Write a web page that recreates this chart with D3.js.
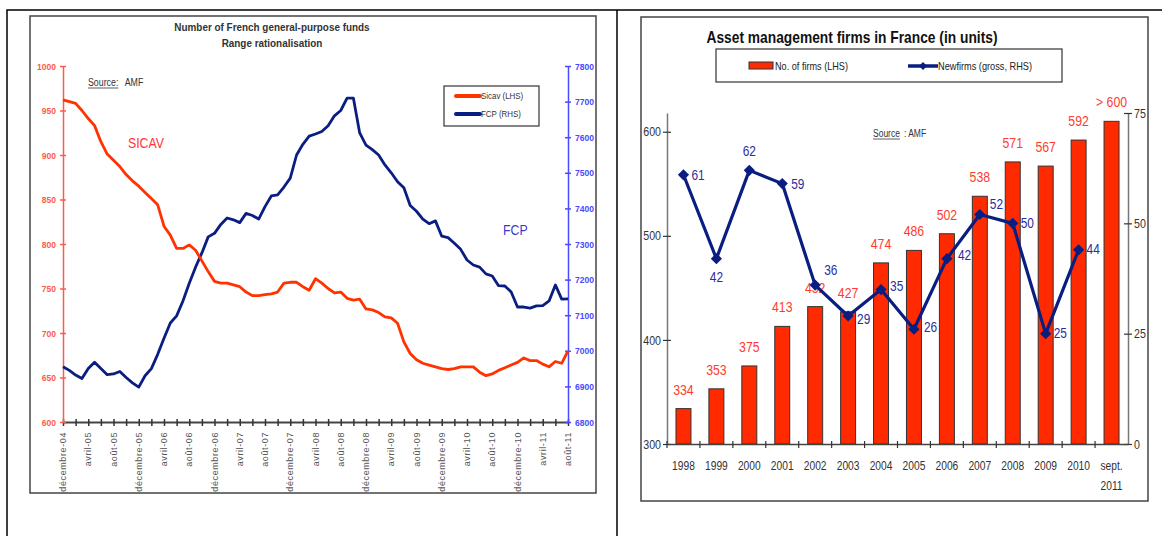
<!DOCTYPE html>
<html>
<head>
<meta charset="utf-8">
<script src="https://cdn.jsdelivr.net/npm/d3@7"></script>
<style>
  body { margin: 0; background: #fff; }
  svg { display: block; }
  .narrow, .arial { font-family: "Liberation Sans", Arial, sans-serif; }
</style>
</head>
<body>
<svg id="chart" width="1162" height="536"></svg>
<script>
// ---- left chart data (monthly, déc 2004 -> août 2011) ----
let sicavValues = [962, 960, 958, 950, 941, 933, 915, 901, 894, 887, 878, 871, 865, 858, 851, 844,
    820, 810, 795, 795, 799, 793, 781, 769, 758, 756, 756, 754, 752, 746, 742, 742, 743, 744, 746,
    756, 757, 757, 752, 748, 761, 756, 750, 745, 746, 739, 737, 738, 727, 726, 723, 718, 717, 711,
    690, 677, 670, 666, 664, 662, 660, 659, 660, 662, 662, 662, 656, 652, 654, 658, 661, 664, 667,
    672, 669, 669, 665, 662, 668, 666, 680];
let fcpValues = [6955, 6945, 6932, 6922, 6950, 6968, 6950, 6933, 6935, 6942, 6925, 6910, 6898, 6930,
    6950, 6990, 7035, 7078, 7098, 7140, 7190, 7235, 7275, 7320, 7330, 7355, 7373, 7368, 7360, 7386,
    7380, 7370, 7405, 7435, 7438, 7460, 7485, 7550, 7580, 7603, 7609, 7616, 7632, 7660, 7675, 7710,
    7710, 7612, 7578, 7565, 7550, 7522, 7500, 7475, 7458, 7408, 7392, 7370, 7357, 7365, 7322, 7318,
    7302, 7285, 7255, 7241, 7235, 7216, 7210, 7183, 7182, 7165, 7123, 7123, 7120, 7126, 7127, 7140,
    7185, 7145, 7146];
// one label every 4 months
let monthLabels = ["décembre-04", "avril-05", "août-05", "décembre-05", "avril-06", "août-06",
    "décembre-06", "avril-07", "août-07", "décembre-07", "avril-08", "août-08", "décembre-08",
    "avril-09", "août-09", "décembre-09", "avril-10", "août-10", "décembre-10", "avril-11", "août-11"];
let sicavTicks = [600, 650, 700, 750, 800, 850, 900, 950, 1000];
let fcpTicks = [6800, 6900, 7000, 7100, 7200, 7300, 7400, 7500, 7600, 7700, 7800];

// ---- right chart data ----
let years = ["1998", "1999", "2000", "2001", "2002", "2003", "2004", "2005", "2006", "2007", "2008", "2009", "2010", "sept. 2011"];
let firmsValues = [334, 353, 375, 413, 432, 427, 474, 486, 502, 538, 571, 567, 592, 610];
let firmsLabels = ["334", "353", "375", "413", "432", "427", "474", "486", "502", "538", "571", "567", "592", "> 600"];
let newFirmsValues = [61, 42, 62, 59, 36, 29, 35, 26, 42, 52, 50, 25, 44];
let firmsTicks = [300, 400, 500, 600];
let newFirmsTicks = [0, 25, 50, 75];

// label placement of the new firms values [dx, dy]
let newFirmsLabelOffset = [[8, 5], [0, 23], [0, -14], [9, 5], [9, -10], [9, 8], [9, 1], [10, 3],
    [11, 1], [10, -6], [8, 5], [8, 4], [8, 4]];

// squeeze Liberation Sans to look like Arial Narrow
function condense(sel, factor) {
    sel.each(function () {
        let w = this.getComputedTextLength();
        d3.select(this).attr("textLength", w * factor).attr("lengthAdjust", "spacingAndGlyphs");
    });
}

// "Source: AMF" note, underlined word + plain text as two texts
function sourceNote(g, x, y, word, rest, size, factor, gap) {
    let a = g.append("text").attr("class", "arial").attr("x", x).attr("y", y)
        .style("font-size", size + "px").attr("fill", "#333").text(word);
    condense(a, factor);
    let w = +a.attr("textLength");
    g.append("line").attr("x1", x).attr("x2", x + w).attr("y1", y + 2).attr("y2", y + 2)
        .attr("stroke", "#333").attr("stroke-width", 0.8);
    let b = g.append("text").attr("class", "arial").attr("x", x + w + gap).attr("y", y)
        .style("font-size", size + "px").attr("fill", "#333").text(rest);
    condense(b, factor);
}

let svg = d3.select("svg#chart");
svg.append("rect").attr("width", 1162).attr("height", 536).attr("fill", "#fff");

// outer frame
svg.append("path")
    .attr("d", "M7,536 V10 H1162 M617,10 V536")
    .attr("fill", "none").attr("stroke", "#000").attr("stroke-width", 1.5);

// =================== LEFT CHART ===================
let left = svg.append("g");
left.append("rect").attr("x", 30).attr("y", 16).attr("width", 566).attr("height", 477)
    .attr("fill", "none").attr("stroke", "#444").attr("stroke-width", 1.5);

let monthScale = d3.scaleLinear().domain([0, sicavValues.length - 1]).range([63, 568]);
let sicavScale = d3.scaleLinear().domain([600, 1000]).range([422, 66]);
let fcpScale = d3.scaleLinear().domain([6800, 7800]).range([422, 66]);

let titles = left.selectAll("text.title").data(["Number of French general-purpose funds", "Range rationalisation"])
    .enter().append("text").attr("class", "title arial")
    .attr("x", 272).attr("y", (d, i) => 31 + i * 16)
    .attr("text-anchor", "middle").style("font-size", "11px").style("font-weight", "bold").attr("fill", "#333")
    .text(d => d);
condense(titles, 0.9);

// x axis
let xTicks = d3.range(0, sicavValues.length, 2);
let xAxisLeft = d3.axisBottom(monthScale).tickValues(xTicks).tickSize(0).tickFormat("");
let gx = left.append("g").attr("transform", "translate(0,422)").call(xAxisLeft);
gx.select(".domain").attr("stroke", "#444").attr("stroke-width", 2);
gx.selectAll(".tick line").attr("y1", -3).attr("y2", 4).attr("stroke", "#333").attr("stroke-width", 1.5);
left.selectAll("text.month").data(monthLabels).enter().append("text")
    .attr("class", "month arial")
    .attr("transform", (d, i) => "translate(" + (monthScale(i * 4) + 3) + ",432)rotate(-90)")
    .attr("text-anchor", "end").style("font-size", "9px").style("letter-spacing", "0.6px").attr("fill", "#555")
    .text(d => d);

// left y axis (Sicav)
let yAxisSicav = d3.axisLeft(sicavScale).tickValues(sicavTicks).tickFormat(d3.format("d")).tickSize(0).tickPadding(7);
let gl = left.append("g").attr("transform", "translate(63,0)").call(yAxisSicav);
gl.select(".domain").attr("stroke", "#ff5a4a").attr("stroke-width", 1.5);
gl.selectAll(".tick line").attr("x1", -3).attr("x2", 3).attr("stroke", "#ff5a4a").attr("stroke-width", 1.5);
gl.selectAll(".tick text").attr("class", "arial").style("font-size", "9.5px").style("font-weight", "bold").attr("fill", "#ff5a4a");
condense(gl.selectAll(".tick text"), 0.9);

// right y axis (FCP)
let yAxisFcp = d3.axisRight(fcpScale).tickValues(fcpTicks).tickFormat(d3.format("d")).tickSize(0).tickPadding(7);
let gr = left.append("g").attr("transform", "translate(568,0)").call(yAxisFcp);
gr.select(".domain").attr("stroke", "#4a4aff").attr("stroke-width", 1.5);
gr.selectAll(".tick line").attr("x1", -3).attr("x2", 3).attr("stroke", "#4a4aff").attr("stroke-width", 1.5);
gr.selectAll(".tick text").attr("class", "arial").style("font-size", "9.5px").style("font-weight", "bold").attr("fill", "#4a4aff");
condense(gr.selectAll(".tick text"), 0.9);
left.selectAll(".domain").attr("fill", "none");

let sicavLine = d3.line().x((d, i) => monthScale(i)).y(d => sicavScale(d));
let fcpLine = d3.line().x((d, i) => monthScale(i)).y(d => fcpScale(d));
left.append("path").datum(fcpValues).attr("d", fcpLine)
    .attr("fill", "none").attr("stroke", "#0a1e82").attr("stroke-width", 2.8).attr("stroke-linejoin", "round");
left.append("path").datum(sicavValues).attr("d", sicavLine)
    .attr("fill", "none").attr("stroke", "#ff3300").attr("stroke-width", 2.8).attr("stroke-linejoin", "round");

// source + series names
sourceNote(left, 88, 86, "Source:", "\u00a0 AMF", 10, 0.88, 2);
let sicavName = left.append("text").attr("class", "narrow").attr("x", 128).attr("y", 148).style("font-size", "15px").attr("fill", "#ff3333").text("SICAV");
let fcpName = left.append("text").attr("class", "narrow").attr("x", 503).attr("y", 235).style("font-size", "15px").attr("fill", "#3a3acc").text("FCP");
condense(sicavName, 0.82);
condense(fcpName, 0.82);

// legend
left.append("rect").attr("x", 444).attr("y", 86).attr("width", 95).attr("height", 40)
    .attr("fill", "#fff").attr("stroke", "#333").attr("stroke-width", 1.2);
let legendLeft = [["Sicav (LHS)", "#ff3300"], ["FCP (RHS)", "#0a1e82"]];
legendLeft.forEach(function (item, i) {
    let ly = 96 + i * 18;
    left.append("line").attr("x1", 456).attr("x2", 480).attr("y1", ly).attr("y2", ly)
        .attr("stroke", item[1]).attr("stroke-width", 4).attr("stroke-linecap", "round");
    let t = left.append("text").attr("class", "arial").attr("x", 481).attr("y", ly + 3).style("font-size", "9px").attr("fill", "#333").text(item[0]);
    condense(t, 0.88);
});

// =================== RIGHT CHART ===================
let right = svg.append("g");
right.append("rect").attr("x", 641).attr("y", 17).attr("width", 507).attr("height", 484)
    .attr("fill", "none").attr("stroke", "#444").attr("stroke-width", 1.5);

let yearScale = d3.scaleBand().domain(years).range([667, 1128]).paddingInner(0.545).paddingOuter(0.2725);
let firmsScale = d3.scaleLinear().domain([300, 618]).range([444, 113]);
let newFirmsScale = d3.scaleLinear().domain([0, 75]).range([444, 113]);
let step = yearScale.step();

right.append("text").attr("class", "narrow").attr("x", 852).attr("y", 43)
    .attr("text-anchor", "middle").style("font-size", "17px").style("font-weight", "bold").attr("fill", "#111")
    .attr("textLength", 291).attr("lengthAdjust", "spacingAndGlyphs")
    .text("Asset management firms in France (in units)");

// legend
right.append("rect").attr("x", 716).attr("y", 49).attr("width", 346).attr("height", 33)
    .attr("fill", "#fff").attr("stroke", "#333").attr("stroke-width", 1.2);
right.append("rect").attr("x", 749).attr("y", 62).attr("width", 24).attr("height", 7)
    .attr("fill", "#ff2a00").attr("stroke", "#333").attr("stroke-width", 1);
right.append("text").attr("class", "narrow").attr("x", 775).attr("y", 70).style("font-size", "11px").attr("fill", "#222")
    .attr("textLength", 73).attr("lengthAdjust", "spacingAndGlyphs").text("No. of firms (LHS)");
right.append("line").attr("x1", 908).attr("x2", 938).attr("y1", 66).attr("y2", 66)
    .attr("stroke", "#0a1e82").attr("stroke-width", 3.5);
right.append("path").attr("d", d3.symbol(d3.symbolDiamond2, 40)()).attr("transform", "translate(923,66)").attr("fill", "#0a1e82");
right.append("text").attr("class", "narrow").attr("x", 938).attr("y", 70).style("font-size", "11px").attr("fill", "#222")
    .attr("textLength", 94).attr("lengthAdjust", "spacingAndGlyphs").text("Newfirms (gross, RHS)");

sourceNote(right, 873, 137, "Source", ": AMF", 10, 0.85, 4);

// bars
right.selectAll("rect.bar").data(firmsValues).enter().append("rect")
    .attr("class", "bar")
    .attr("x", (d, i) => yearScale(years[i]))
    .attr("y", d => firmsScale(d))
    .attr("width", yearScale.bandwidth())
    .attr("height", d => 444 - firmsScale(d))
    .attr("fill", "#ff2a00").attr("stroke", "#333").attr("stroke-width", 1);

let barLabels = right.selectAll("text.barlabel").data(firmsLabels).enter().append("text")
    .attr("class", "barlabel narrow")
    .attr("x", (d, i) => yearScale(years[i]) + yearScale.bandwidth() / 2)
    .attr("y", (d, i) => firmsScale(firmsValues[i]) - 14)
    .attr("text-anchor", "middle").style("font-size", "15px").attr("fill", "#ff3b2f")
    .text(d => d);
condense(barLabels, 0.82);

// axes
let gy1 = right.append("g").attr("transform", "translate(667,0)")
    .call(d3.axisLeft(firmsScale).tickValues(firmsTicks).tickSize(0).tickPadding(6));
gy1.select(".domain").attr("stroke", "#777").attr("stroke-width", 1.5);
gy1.selectAll(".tick line").attr("x1", -4).attr("x2", 4).attr("stroke", "#333").attr("stroke-width", 1.2);

let gy2 = right.append("g").attr("transform", "translate(1128,0)")
    .call(d3.axisRight(newFirmsScale).tickValues(newFirmsTicks).tickSize(0).tickPadding(6));
gy2.select(".domain").attr("stroke", "#777").attr("stroke-width", 1.5);
gy2.selectAll(".tick line").attr("x1", -4).attr("x2", 4).attr("stroke", "#333").attr("stroke-width", 1.2);

let gx2 = right.append("g").attr("transform", "translate(0,444)")
    .call(d3.axisBottom(yearScale).tickSize(0).tickFormat(""));
gx2.select(".domain").attr("stroke", "#444").attr("stroke-width", 1.5);
gx2.selectAll(".tick line").remove();
right.selectAll("line.boundary").data(d3.range(years.length)).enter().append("line")
    .attr("class", "boundary")
    .attr("x1", i => yearScale(years[i]) - (step - yearScale.bandwidth()) / 2)
    .attr("x2", i => yearScale(years[i]) - (step - yearScale.bandwidth()) / 2)
    .attr("y1", 441).attr("y2", 448).attr("stroke", "#333").attr("stroke-width", 1.2);

right.selectAll(".domain").attr("fill", "none");
let axisTexts = right.selectAll(".tick text").attr("class", "narrow").style("font-size", "13px").attr("fill", "#333");
condense(axisTexts, 0.82);

let yearLabels = right.selectAll("text.year").data(years).enter().append("text")
    .attr("class", "year narrow")
    .attr("x", d => yearScale(d) + yearScale.bandwidth() / 2)
    .attr("y", 470)
    .attr("text-anchor", "middle").style("font-size", "12.5px").attr("fill", "#333")
    .each(function (d) {
        let parts = d.split(" ");
        let t = d3.select(this);
        parts.forEach(function (p, k) {
            t.append("tspan").attr("x", t.attr("x")).attr("dy", k === 0 ? 0 : 20).text(p);
        });
    });
condense(yearLabels.selectAll("tspan"), 0.82);

// new firms line
let newLine = d3.line().x((d, i) => yearScale(years[i]) + yearScale.bandwidth() / 2).y(d => newFirmsScale(d));
right.append("path").datum(newFirmsValues).attr("d", newLine)
    .attr("fill", "none").attr("stroke", "#0a1e82").attr("stroke-width", 3.2).attr("stroke-linejoin", "round");
right.selectAll("path.marker").data(newFirmsValues).enter().append("path")
    .attr("class", "marker")
    .attr("d", d3.symbol(d3.symbolDiamond2, 80)())
    .attr("transform", (d, i) => "translate(" + (yearScale(years[i]) + yearScale.bandwidth() / 2) + "," + newFirmsScale(d) + ")")
    .attr("fill", "#0a1e82");
let newLabels = right.selectAll("text.newlabel").data(newFirmsValues).enter().append("text")
    .attr("class", "newlabel narrow")
    .attr("x", (d, i) => yearScale(years[i]) + yearScale.bandwidth() / 2 + newFirmsLabelOffset[i][0])
    .attr("y", (d, i) => newFirmsScale(d) + newFirmsLabelOffset[i][1])
    .attr("text-anchor", (d, i) => newFirmsLabelOffset[i][0] === 0 ? "middle" : "start")
    .style("font-size", "14.5px").attr("fill", "#2c2ca0")
    .text(d => d);
condense(newLabels, 0.82);
</script>
</body>
</html>
